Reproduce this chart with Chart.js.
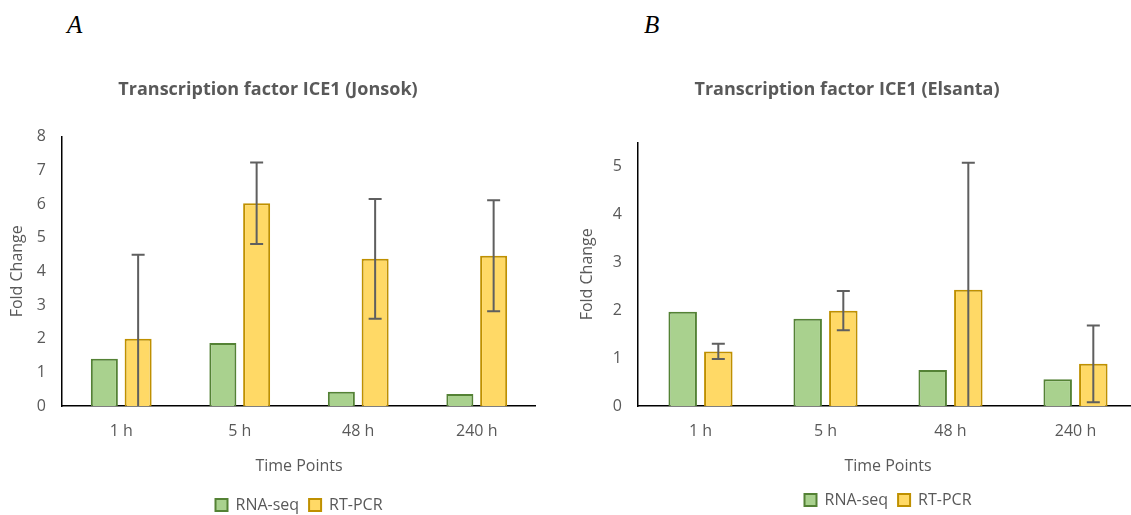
<!DOCTYPE html>
<html>
<head>
<meta charset="utf-8">
<script src="https://cdn.jsdelivr.net/npm/chart.js@4.4.1/dist/chart.umd.min.js"></script>
<style>
  html, body { margin: 0; padding: 0; background: #fff; width: 1131px; height: 515px; overflow: hidden; position: relative; }
  .panel-label { position: absolute; top: 11px; font-family: "Liberation Serif", serif; font-style: italic; font-size: 25px; color: #000; }
  #wrapA { position: absolute; left: 0; top: 0; width: 536px; height: 523px; }
  #wrapB { position: absolute; left: 556px; top: 0; width: 582px; height: 518px; }
</style>
</head>
<body>
<div class="panel-label" style="left:67px">A</div>
<div class="panel-label" style="left:644px">B</div>
<div id="wrapA"><canvas id="chartA"></canvas></div>
<div id="wrapB"><canvas id="chartB"></canvas></div>

<script>
// data
const timePoints = ['1 h', '5 h', '48 h', '240 h'];

const jonsokRnaSeq = [1.40, 1.87, 0.42, 0.36];
const jonsokRtPcr = [2.00, 6.02, 4.37, 4.46];
const jonsokRtPcrErr = [2.49, 1.21, 1.78, 1.65];

const elsantaRnaSeq = [1.97, 1.82, 0.75, 0.56];
const elsantaRtPcr = [1.14, 1.99, 2.43, 0.88];
const elsantaRtPcrErr = [0.16, 0.41, 2.65, 0.80];

const textGrey = '#595959';
const font = 'Open Sans';

// error bars drawn on top of the bars, using the chart's own y scale
const errorBars = {
    id: 'errorBars',
    afterDatasetsDraw(chart) {
        const ctx = chart.ctx;
        const yScale = chart.scales.y;
        const area = chart.chartArea;
        chart.data.datasets.forEach((ds, di) => {
            if (!ds.errors) return;
            const meta = chart.getDatasetMeta(di);
            meta.data.forEach((bar, i) => {
                const v = ds.data[i], e = ds.errors[i];
                const yTop = yScale.getPixelForValue(v + e);
                const low = v - e;
                const yBot = yScale.getPixelForValue(Math.max(low, 0));
                const cap = 6.5;
                ctx.save();
                ctx.strokeStyle = '#5f5f5f';
                ctx.lineWidth = 2;
                ctx.beginPath();
                ctx.moveTo(bar.x, yTop);
                ctx.lineTo(bar.x, Math.min(yBot, area.bottom));
                ctx.moveTo(bar.x - cap, yTop);
                ctx.lineTo(bar.x + cap, yTop);
                if (low > 0) {
                    ctx.moveTo(bar.x - cap, yBot);
                    ctx.lineTo(bar.x + cap, yBot);
                }
                ctx.stroke();
                ctx.restore();
            });
        });
    }
};

function makeChart(id, title, rna, pcr, pcrErr, yMax, yWidth, yTitlePad, titlePad, xHeight, xTitlePadBottom) {
    return new Chart(document.getElementById(id), {
        type: 'bar',
        data: {
            labels: timePoints,
            datasets: [{
                label: 'RNA-seq',
                data: rna,
                backgroundColor: '#A9D18E',
                borderColor: '#548235',
                borderWidth: 2,
                categoryPercentage: 0.57,
                barPercentage: 0.8
            }, {
                label: 'RT-PCR',
                data: pcr,
                errors: pcrErr,
                backgroundColor: '#FFD966',
                borderColor: '#BF9000',
                borderWidth: 2,
                categoryPercentage: 0.57,
                barPercentage: 0.8
            }]
        },
        options: {
            responsive: true,
            maintainAspectRatio: false,
            animation: false,
            layout: { padding: 0 },
            plugins: {
                title: {
                    display: true,
                    text: title,
                    color: textGrey,
                    font: { family: font, size: 18, weight: 'bold' },
                    padding: titlePad
                },
                legend: {
                    position: 'bottom',
                    fullSize: false,
                    labels: {
                        color: textGrey,
                        font: { family: font, size: 16 },
                        boxWidth: 12,
                        boxHeight: 12,
                        padding: 10,
                        useBorderRadius: false
                    }
                },
                tooltip: { enabled: false }
            },
            scales: {
                x: {
                    grid: { display: false, drawTicks: false },
                    border: { color: '#000', width: 1.5 },
                    ticks: { color: textGrey, font: { family: font, size: 16 }, padding: 16 },
                    title: {
                        display: true,
                        text: 'Time Points',
                        color: textGrey,
                        font: { family: font, size: 16 },
                        padding: { top: 0, bottom: xTitlePadBottom }
                    },
                    afterFit(scale) { scale.height = xHeight; }
                },
                y: {
                    min: 0,
                    max: yMax,
                    grid: { display: false, drawTicks: false },
                    border: { color: '#000', width: 1.5 },
                    ticks: { stepSize: 1, includeBounds: false, color: textGrey, font: { family: font, size: 16 }, padding: 16 },
                    title: {
                        display: true,
                        text: 'Fold Change',
                        color: textGrey,
                        font: { family: font, size: 16 },
                        padding: { top: yTitlePad, bottom: 0 }
                    },
                    afterFit(scale) { scale.width = yWidth; }
                }
            }
        },
        plugins: [errorBars]
    });
}

makeChart('chartA', 'Transcription factor ICE1 (Jonsok)',
    jonsokRnaSeq, jonsokRtPcr, jonsokRtPcrErr, 8, 62, 8,
    { top: 79, bottom: 36 }, 81, 11);

makeChart('chartB', 'Transcription factor ICE1 (Elsanta)',
    elsantaRnaSeq, elsantaRtPcr, elsantaRtPcrErr, 5.5, 82, 22,
    { top: 79, bottom: 42 }, 76, 6);
</script>
</body>
</html>
